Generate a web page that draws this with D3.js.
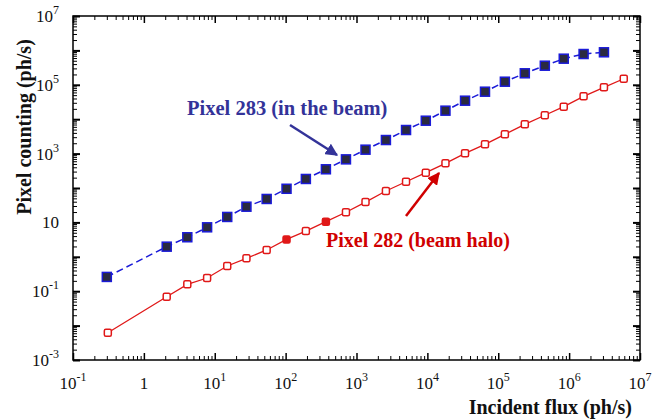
<!DOCTYPE html>
<html>
<head>
<meta charset="utf-8">
<script src="https://cdn.jsdelivr.net/npm/d3@7"></script>
<style>
  body { margin: 0; background: #fff; }
  svg { display: block; }
</style>
</head>
<body>
<div id="chart"></div>
<script>
// Data (incident flux vs pixel counting, ph/s)
const flux283 = [0.3, 2.1, 4.1, 7.8, 15, 28, 54, 103, 193, 370, 710, 1340, 2600, 5000, 9500,
  18000, 34000, 65000, 124000, 237000, 454000, 840000, 1.6e6, 3.1e6];
const count283 = [0.26, 1.97, 3.7, 7.2, 14.4, 28.6, 48, 95, 183, 350, 680, 1300, 2480, 4850, 9040,
  17700, 34500, 63000, 123000, 216000, 359000, 574000, 785000, 881000];

const flux282 = [0.31, 2.1, 4.1, 7.8, 15, 28, 54, 103, 193, 370, 710, 1340, 2600, 5000, 9500,
  18000, 34000, 65000, 124000, 237000, 454000, 840000, 1.6e6, 3.1e6, 5.9e6];
const count282 = [0.0062, 0.069, 0.158, 0.242, 0.54, 0.9, 1.58, 3.2, 5.6, 10.5, 19.7, 39, 82, 152, 279,
  522, 1020, 1860, 3640, 7110, 13000, 23100, 46300, 84500, 150000];
const filled282 = [7, 9];

const xTickExps = [-1, 0, 1, 2, 3, 4, 5, 6, 7];
const xTickLabels = [["10", "-1"], ["1", ""], ["10", "1"], ["10", "2"], ["10", "3"],
  ["10", "4"], ["10", "5"], ["10", "6"], ["10", "7"]];
const yTickExps = [7, 5, 3, 1, -1, -3];
const yTickLabels = [["10", "7"], ["10", "5"], ["10", "3"], ["10", ""], ["10", "-1"], ["10", "-3"]];

const W = 652, H = 419;
const margin = { top: 16, right: 12, bottom: 59, left: 73 };
const width = W - margin.left - margin.right;
const height = H - margin.top - margin.bottom;

const x = d3.scaleLog().domain([0.1, 1e7]).range([0, width]);
const y = d3.scaleLog().domain([1e-3, 1e7]).range([height, 0]);

const svg = d3.select("#chart").append("svg")
  .attr("width", W)
  .attr("height", H);

const g = svg.append("g")
  .attr("transform", `translate(${margin.left},${margin.top})`);

const serif = `"Liberation Serif", serif`;

// minor tick values 2..9 per decade
function minors(lo, hi) {
  const v = [];
  for (let e = lo; e < hi; e++) {
    for (let m = 2; m <= 9; m++) v.push(m * Math.pow(10, e));
  }
  return v;
}
const xMajor = d3.range(-1, 8).map(e => Math.pow(10, e));
const yMajor = d3.range(-3, 8).map(e => Math.pow(10, e));

function tickAxis(axisFn, scale, values, size, transform) {
  const a = g.append("g")
    .attr("transform", transform)
    .call(axisFn(scale).tickValues(values).tickSize(size).tickFormat(""));
  a.select(".domain").remove();
  a.selectAll(".tick line").attr("stroke", "#000");
  return a;
}

// ticks point inward on all four sides
tickAxis(d3.axisBottom, x, minors(-1, 7), -4, `translate(0,${height})`).selectAll("line").attr("stroke-width", 1);
tickAxis(d3.axisBottom, x, xMajor, -7, `translate(0,${height})`).selectAll("line").attr("stroke-width", 1.5);
tickAxis(d3.axisTop, x, minors(-1, 7), -4, "translate(0,0)").selectAll("line").attr("stroke-width", 1);
tickAxis(d3.axisTop, x, xMajor, -7, "translate(0,0)").selectAll("line").attr("stroke-width", 1.5);
tickAxis(d3.axisLeft, y, minors(-3, 7), -4, "translate(0,0)").selectAll("line").attr("stroke-width", 1);
tickAxis(d3.axisLeft, y, yMajor, -7, "translate(0,0)").selectAll("line").attr("stroke-width", 2);
tickAxis(d3.axisRight, y, minors(-3, 7), -4, `translate(${width},0)`).selectAll("line").attr("stroke-width", 1);
tickAxis(d3.axisRight, y, yMajor, -7, `translate(${width},0)`).selectAll("line").attr("stroke-width", 2);

// frame
g.append("rect")
  .attr("width", width)
  .attr("height", height)
  .attr("fill", "none")
  .attr("stroke", "#000")
  .attr("stroke-width", 1.5);

// tick labels with superscripts
function powerLabel(sel, lab) {
  sel.append("tspan").text(lab[0]);
  if (lab[1] !== "") {
    sel.append("tspan")
      .attr("dy", -8)
      .style("font-size", "12px")
      .text(lab[1]);
  }
}

xTickExps.forEach((e, i) => {
  const t = g.append("text")
    .attr("x", x(Math.pow(10, e)))
    .attr("y", height + 29)
    .attr("text-anchor", "middle")
    .style("font-family", serif)
    .style("font-size", "17px")
    .attr("fill", "#111");
  powerLabel(t, xTickLabels[i]);
});

yTickExps.forEach((e, i) => {
  const t = g.append("text")
    .attr("x", -14)
    .attr("y", y(Math.pow(10, e)) + 6)
    .attr("text-anchor", "end")
    .style("font-family", serif)
    .style("font-size", "17px")
    .attr("fill", "#111");
  powerLabel(t, yTickLabels[i]);
});

// axis titles
svg.append("text")
  .attr("x", 632)
  .attr("y", 414)
  .attr("text-anchor", "end")
  .style("font-family", serif)
  .style("font-size", "20px")
  .style("font-weight", "bold")
  .attr("fill", "#111")
  .text("Incident flux (ph/s)");

svg.append("text")
  .attr("transform", "translate(31,127) rotate(-90)")
  .attr("text-anchor", "middle")
  .style("font-family", serif)
  .style("font-size", "20px")
  .style("font-weight", "bold")
  .attr("fill", "#111")
  .text("Pixel counting (ph/s)");

// series
const data283 = flux283.map((f, i) => ({ f: f, c: count283[i] }));
const data282 = flux282.map((f, i) => ({ f: f, c: count282[i], filled: filled282.includes(i) }));

const line = d3.line()
  .x(d => x(d.f))
  .y(d => y(d.c));

g.append("path")
  .datum(data282)
  .attr("fill", "none")
  .attr("stroke", "#e01818")
  .attr("stroke-width", 1.3)
  .attr("d", line);

g.append("path")
  .datum(data283)
  .attr("fill", "none")
  .attr("stroke", "#1a1ad8")
  .attr("stroke-width", 1.5)
  .attr("stroke-dasharray", "7,4")
  .attr("d", line);

g.selectAll(".m282")
  .data(data282)
  .join("rect")
  .attr("class", "m282")
  .attr("x", d => x(d.f) - 3.5)
  .attr("y", d => y(d.c) - 3.5)
  .attr("width", 7)
  .attr("height", 7)
  .attr("rx", 1.5)
  .attr("fill", d => d.filled ? "#e01818" : "#fff")
  .attr("stroke", "#e01818")
  .attr("stroke-width", 1.5);

g.selectAll(".m283")
  .data(data283)
  .join("rect")
  .attr("class", "m283")
  .attr("x", d => x(d.f) - 4.5)
  .attr("y", d => y(d.c) - 4.5)
  .attr("width", 9)
  .attr("height", 9)
  .attr("fill", "#2a2a40")
  .attr("stroke", "#1a1ad8")
  .attr("stroke-width", 1.5);

// annotations
const defs = svg.append("defs");
function arrowHead(id, color) {
  defs.append("marker")
    .attr("id", id)
    .attr("viewBox", "0 0 10 10")
    .attr("refX", 9)
    .attr("refY", 5)
    .attr("markerWidth", 5)
    .attr("markerHeight", 5)
    .attr("orient", "auto")
    .append("path")
    .attr("d", "M0,0L10,5L0,10Z")
    .attr("fill", color);
}
arrowHead("ahBlue", "#333399");
arrowHead("ahRed", "#d00000");

svg.append("line")
  .attr("x1", 290).attr("y1", 125)
  .attr("x2", 337).attr("y2", 155)
  .attr("stroke", "#333399")
  .attr("stroke-width", 2.5)
  .attr("marker-end", "url(#ahBlue)");

svg.append("line")
  .attr("x1", 406).attr("y1", 216)
  .attr("x2", 439).attr("y2", 173)
  .attr("stroke", "#d00000")
  .attr("stroke-width", 2.5)
  .attr("marker-end", "url(#ahRed)");

svg.append("text")
  .attr("x", 187)
  .attr("y", 115)
  .style("font-family", serif)
  .style("font-size", "20.5px")
  .style("font-weight", "bold")
  .attr("fill", "#333399")
  .text("Pixel 283 (in the beam)");

svg.append("text")
  .attr("x", 326)
  .attr("y", 247)
  .style("font-family", serif)
  .style("font-size", "20px")
  .style("font-weight", "bold")
  .attr("fill", "#d00000")
  .text("Pixel 282 (beam halo)");
</script>
</body>
</html>
